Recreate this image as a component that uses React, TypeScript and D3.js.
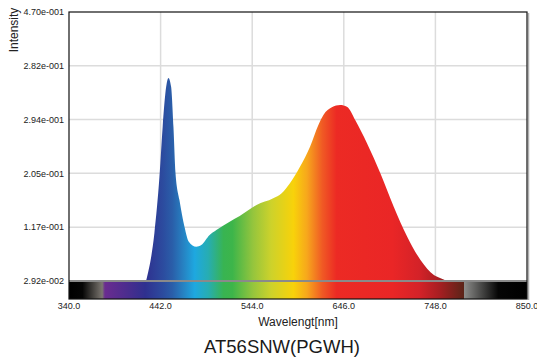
import React from 'react';
import * as d3 from 'd3';

const wavelengths = [425.8, 435.1, 440.7, 444.3, 448.2, 450.7, 453.7, 456.3, 458.6, 463.0, 468.6, 473.4, 481.7, 487.3, 496.6, 504.1, 518.9, 530.1, 548.8, 567.4, 576.8, 586.0, 597.2, 608.4, 617.7, 623.3, 632.7, 642.0, 649.5, 658.7, 671.8, 686.7, 701.6, 716.6, 731.4, 746.3, 753.8, 760.5];
const intensities = [0.0292, 0.1079, 0.1996, 0.2821, 0.3476, 0.3619, 0.3476, 0.2821, 0.2062, 0.1619, 0.1182, 0.0936, 0.0854, 0.0882, 0.1046, 0.1128, 0.1264, 0.1357, 0.1537, 0.1647, 0.1729, 0.1893, 0.2165, 0.2493, 0.2848, 0.3012, 0.3138, 0.3176, 0.3148, 0.2930, 0.2549, 0.2057, 0.1510, 0.1018, 0.0636, 0.0390, 0.0336, 0.0292];

const xTicks = [340, 442, 544, 646, 748, 850];
const xTickLabels = ['340.0', '442.0', '544.0', '646.0', '748.0', '850.0'];
const yTicks = [0.0292, 0.1174, 0.2056, 0.2938, 0.382, 0.47];
const yTickLabels = ['2.92e-002', '1.17e-001', '2.05e-001', '2.94e-001', '2.82e-001', '4.70e-001'];

const spectrumNm = [380, 405, 425, 445, 455, 468, 480, 495, 512, 522, 545, 565, 590, 605, 622, 638, 700, 730, 752, 780];
const spectrumColors = ['#6a2c90', '#4b2d8e', '#2f308f', '#2c4c9f', '#2a5ea9', '#2684c4', '#1ea8e0', '#27adb2', '#38b452', '#3db54a', '#95c53d', '#cdd22b', '#f8d20a', '#f7a71c', '#f05a24', '#ec2a24', '#ea2626', '#d42228', '#a81e22', '#5a2418'];

const barLeftNm = [340, 355, 377];
const barLeftColors = ['#000000', '#050505', '#7b7670'];
const barRightNm = [780, 818, 850];
const barRightColors = ['#8c8c8a', '#050505', '#000000'];

const W = 537;
const H = 360;
const plotLeft = 69;
const plotRight = 527;
const plotTop = 12;
const baseY = 281;
const barBottom = 299;
const font = '"Liberation Sans", Arial, Helvetica, sans-serif';

export default function App() {
  const x = d3.scaleLinear().domain([340, 850]).range([plotLeft, plotRight]);
  const y = d3.scaleLinear().domain([yTicks[0], yTicks[yTicks.length - 1]]).range([baseY, plotTop]);

  const data = wavelengths.map((w, i) => ({ w, v: intensities[i] }));
  const area = d3
    .area<{ w: number; v: number }>()
    .x((d) => x(d.w))
    .y0(y(yTicks[0]))
    .y1((d) => y(d.v))
    .curve(d3.curveMonotoneX);

  const specX1 = x(spectrumNm[0]);
  const specX2 = x(spectrumNm[spectrumNm.length - 1]);
  const specOff = (nm: number) => (nm - spectrumNm[0]) / (spectrumNm[spectrumNm.length - 1] - spectrumNm[0]);
  const barOff = (nm: number) => (nm - 340) / (850 - 340);

  return (
    <svg width={W} height={H} style={{ position: 'absolute', left: 0, top: 0, background: '#fff' }}>
      <defs>
        <linearGradient id="spec" gradientUnits="userSpaceOnUse" x1={specX1} x2={specX2} y1={0} y2={0}>
          {spectrumNm.map((nm, i) => (
            <stop key={i} offset={specOff(nm)} stopColor={spectrumColors[i]} />
          ))}
        </linearGradient>
        <linearGradient id="bar" gradientUnits="userSpaceOnUse" x1={x(340)} x2={x(850)} y1={0} y2={0}>
          {barLeftNm.map((nm, i) => (
            <stop key={'l' + i} offset={barOff(nm)} stopColor={barLeftColors[i]} />
          ))}
          {spectrumNm.map((nm, i) => (
            <stop key={'s' + i} offset={barOff(nm)} stopColor={spectrumColors[i]} />
          ))}
          {barRightNm.map((nm, i) => (
            <stop key={'r' + i} offset={barOff(nm)} stopColor={barRightColors[i]} />
          ))}
        </linearGradient>
      </defs>

      {/* grid */}
      {yTicks.slice(1, -1).map((t, i) => (
        <line key={'gy' + i} x1={plotLeft} x2={plotRight} y1={y(t)} y2={y(t)} stroke="#dcdcdc" strokeWidth={1.5} />
      ))}
      {xTicks.slice(1, -1).map((t, i) => (
        <line key={'gx' + i} x1={x(t)} x2={x(t)} y1={plotTop} y2={baseY} stroke="#dcdcdc" strokeWidth={1.5} />
      ))}

      {/* spectrum area */}
      <path d={area(data) || ''} fill="url(#spec)" />

      {/* spectrum bar */}
      <rect x={plotLeft} y={baseY} width={plotRight - plotLeft} height={barBottom - baseY} fill="url(#bar)" />
      <line x1={plotLeft} x2={plotRight} y1={baseY} y2={baseY} stroke="#8a8a8a" strokeWidth={2} />

      {/* frame */}
      <line x1={plotRight + 1.5} x2={plotRight + 1.5} y1={plotTop + 1} y2={barBottom + 1} stroke="#b0b0b0" strokeWidth={1.5} />
      <rect x={plotLeft} y={plotTop} width={plotRight - plotLeft} height={barBottom - plotTop} fill="none" stroke="#111" strokeWidth={1.2} />

      {/* y tick labels */}
      {yTicks.map((t, i) => (
        <text key={'yl' + i} x={64} y={y(t)} dy="0.35em" textAnchor="end" fontFamily={font} fontSize={9} fill="#222">
          {yTickLabels[i]}
        </text>
      ))}
      {/* x tick labels */}
      {xTicks.map((t, i) => (
        <text key={'xl' + i} x={x(t)} y={309} textAnchor="middle" fontFamily={font} fontSize={9} fill="#222">
          {xTickLabels[i]}
        </text>
      ))}

      <text transform="translate(18,30) rotate(-90)" textAnchor="middle" fontFamily={font} fontSize={12} fill="#222">
        Intensity
      </text>
      <text x={298} y={326} textAnchor="middle" fontFamily={font} fontSize={12} fill="#222">
        Wavelengt[nm]
      </text>
      <text x={282} y={353} textAnchor="middle" fontFamily={font} fontSize={18.5} fill="#1a1a1a">
        AT56SNW(PGWH)
      </text>
    </svg>
  );
}
